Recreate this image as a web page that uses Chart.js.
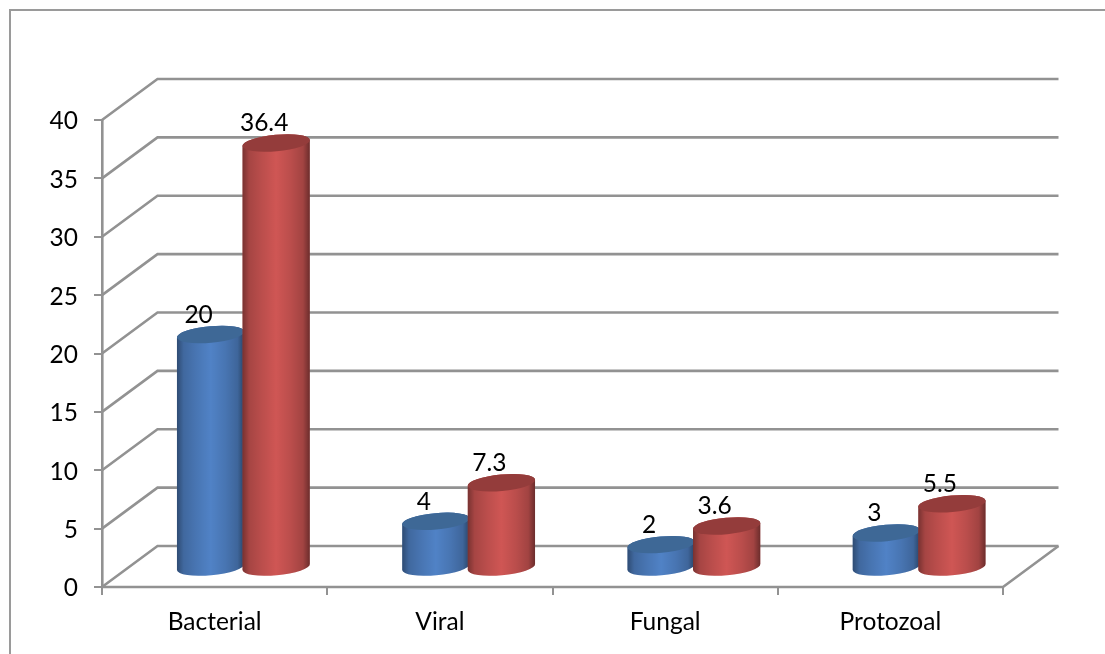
<!DOCTYPE html>
<html lang="en">
<head>
<meta charset="UTF-8">
<title>Infection types</title>
<style>
  html, body { margin:0; padding:0; background:#fff; overflow:hidden; }
  #frame { position:absolute; left:9px; top:9px; width:1096px; height:645px;
           border-left:2px solid #9a9a9a; border-top:2px solid #9a9a9a; box-sizing:border-box; }
  canvas { position:absolute; left:0; top:0; }
</style>
</head>
<body>
<div id="frame"></div>
<canvas id="chart" width="1105" height="654"></canvas>
<script src="https://cdn.jsdelivr.net/npm/chart.js"></script>
<script>
const categories = ["Bacterial", "Viral", "Fungal", "Protozoal"];
const blueValues = [20, 4, 2, 3];
const redValues = [36.4, 7.3, 3.6, 5.5];
const axisMax = 40;
const axisStep = 5;

const FONT = "Lato, 'Open Sans', sans-serif";
const LINE = "#929292";
// how far the back wall sits behind the front plane
const DEPTH_X = 55.5, DEPTH_Y = -41;
const BAR_DX = 1, BAR_DY = 1.5;
const TILT = -0.09, RY = 8.2;

const palettes = [
  { mid:"#5082c6", top:"#3e6896" },
  { mid:"#cf5654", top:"#943c3b" }
];

// floor and wall lines, running back from the value axis
const walls = {
  id: "walls",
  beforeDatasetsDraw(chart) {
    const { ctx, scales:{ x, y } } = chart;
    ctx.save();
    ctx.strokeStyle = LINE;
    ctx.lineWidth = 2.6;
    y.ticks.forEach(t => {
      const py = y.getPixelForValue(t.value);
      ctx.beginPath();
      ctx.moveTo(x.left, py);
      ctx.lineTo(x.left + DEPTH_X, py + DEPTH_Y);
      ctx.lineTo(x.right + DEPTH_X, py + DEPTH_Y);
      ctx.stroke();
    });
    const py0 = y.getPixelForValue(0);
    ctx.beginPath();
    ctx.moveTo(x.left, py0);
    ctx.lineTo(x.right, py0);
    ctx.lineTo(x.right + DEPTH_X, py0 + DEPTH_Y);
    ctx.stroke();
    ctx.restore();
  }
};

function cylinder(ctx, bar, pal) {
  const cx = bar.x + DEPTH_X / 2 + BAR_DX;
  const top = bar.y + DEPTH_Y / 2 + BAR_DY;
  const base = bar.base + DEPTH_Y / 2 + BAR_DY;
  const rx = bar.width / 2 + 1;
  const sx = rx * Math.cos(TILT), sy = rx * Math.sin(TILT);

  // darkening towards both edges of the round body
  const shade = ctx.createLinearGradient(cx - sx, 0, cx + sx, 0);
  shade.addColorStop(0, "rgba(0,0,0,0.42)");
  shade.addColorStop(0.1, "rgba(0,0,0,0.2)");
  shade.addColorStop(0.28, "rgba(0,0,0,0.1)");
  shade.addColorStop(0.5, "rgba(0,0,0,0)");
  shade.addColorStop(0.72, "rgba(0,0,0,0.1)");
  shade.addColorStop(0.9, "rgba(0,0,0,0.22)");
  shade.addColorStop(1, "rgba(0,0,0,0.48)");

  ctx.beginPath();
  ctx.moveTo(cx - sx, top - sy);
  ctx.lineTo(cx - sx, base - sy);
  ctx.ellipse(cx, base, rx, RY, TILT, Math.PI, 0, true);
  ctx.lineTo(cx + sx, top + sy);
  ctx.ellipse(cx, top, rx, RY, TILT, 0, Math.PI, true);
  ctx.closePath();
  ctx.fillStyle = pal.mid;
  ctx.fill();
  ctx.fillStyle = shade;
  ctx.fill();

  ctx.beginPath();
  ctx.ellipse(cx, top, rx, RY, TILT, 0, Math.PI * 2);
  ctx.fillStyle = pal.top;
  ctx.fill();
}

const cylinders = {
  id: "cylinders",
  afterDatasetsDraw(chart) {
    const { ctx } = chart;
    ctx.save();
    chart.data.datasets.forEach((ds, i) => {
      chart.getDatasetMeta(i).data.forEach(bar => cylinder(ctx, bar, palettes[i]));
    });
    // value labels sit a little left of each cylinder
    ctx.fillStyle = "#000";
    ctx.font = "24.5px " + FONT;
    ctx.textAlign = "center";
    ctx.textBaseline = "middle";
    chart.data.datasets.forEach((ds, i) => {
      chart.getDatasetMeta(i).data.forEach((bar, j) => {
        ctx.fillText(String(ds.data[j]), bar.x + DEPTH_X / 2 - 11, bar.y + DEPTH_Y / 2 - 18);
      });
    });
    ctx.restore();
  }
};

new Chart(document.getElementById("chart").getContext("2d"), {
  type: "bar",
  data: {
    labels: categories,
    datasets: [
      { data: blueValues, backgroundColor: "transparent" },
      { data: redValues, backgroundColor: "transparent" }
    ]
  },
  options: {
    responsive: false,
    animation: false,
    layout: { padding: { top: 120, right: 102, left: 0, bottom: 0 } },
    datasets: { bar: { barPercentage: 1, categoryPercentage: 0.582 } },
    plugins: { legend: { display: false }, tooltip: { enabled: false } },
    scales: {
      x: {
        afterFit(s) { s.height = 67; },
        border: { display: false },
        grid: { color: LINE, lineWidth: 2, drawOnChartArea: false, tickLength: 8 },
        ticks: { color: "#000", font: { family: FONT, size: 24.5 }, padding: 12, maxRotation: 0 }
      },
      y: {
        min: 0,
        max: axisMax,
        afterFit(s) { s.width = 102; },
        border: { display: true, color: LINE, width: 2.6 },
        grid: { color: LINE, lineWidth: 2, drawOnChartArea: false, tickLength: 8 },
        ticks: { stepSize: axisStep, color: "#000", font: { family: FONT, size: 24.5 }, padding: 16, labelOffset: 1.5 }
      }
    }
  },
  plugins: [walls, cylinders]
});
</script>
</body>
</html>
